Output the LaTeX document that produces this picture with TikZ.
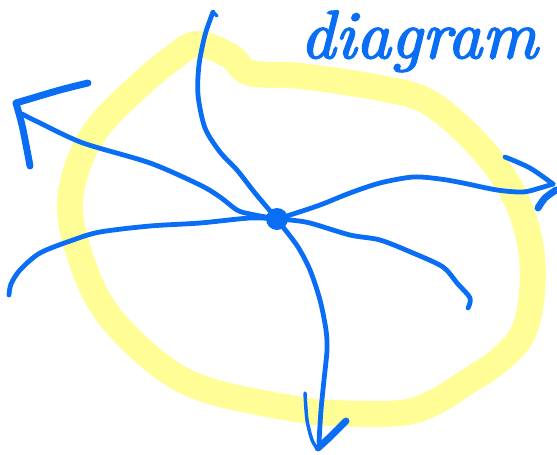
\documentclass[tikz,border=0pt]{standalone}
\usepackage{fontspec}
\newfontfamily\handfont{lmroman10-italic.otf}[FakeBold=2.5]
\definecolor{inkblue}{RGB}{10,110,245}
\definecolor{hilite}{RGB}{255,253,150}
\begin{document}
\begin{tikzpicture}[x=0.75pt,y=-0.75pt,
  blob/.style={draw=hilite,line width=19.5pt,line cap=round,line join=round},
  ink/.style={draw=inkblue,line width=3.6pt,line cap=round,line join=round},
  inkthin/.style={ink,line width=2.6pt},
  inkthick/.style={ink,line width=5.2pt},
  hub/.style={circle,fill=inkblue,inner sep=0pt,minimum size=16.5pt},
  handtext/.style={text=inkblue,inner sep=0pt,font=\handfont\fontsize{51}{51}\selectfont}]
\useasboundingbox (0,0) rectangle (557,454);
% yellow highlight blob
\draw[blob] plot[smooth cycle,tension=0.6] coordinates {(197,44) (230,56) (250,73) (300,76) (380,88) (430,103) (480,147) (513,193) (530,243) (532,293) (522,335) (497,362) (467,382) (433,403) (400,413) (333,413) (290,408) (207,390) (157,363) (107,313) (82,262) (70,210) (78,165) (100,125) (140,85) (170,60)};
% handwritten title
\node[handtext,anchor=base west] (title) at (300,58) {diagram};
% hub
\node[hub] (c) at (277,219) {};
% free ends
\coordinate (ul) at (22,114);
\coordinate (rt) at (553,184);
\coordinate (bt) at (319,442);
\coordinate (tp) at (213,12);
\coordinate (ll) at (9,295);
\coordinate (lr) at (468,308);
% spokes
\draw[ink] plot[smooth] coordinates {(c.center) (250,214) (237,210) (220,197) (200,185) (150,163) (83,143) (40,123) (ul)};
\draw[ink] plot[smooth] coordinates {(c.center) (290,215) (320,205) (350,193) (380,183) (413,177) (440,179) (463,183) (497,190) (523,192) (540,188) (rt)};
\draw[ink] plot[smooth] coordinates {(c.center) (283,227) (298,247) (310,270) (320,300) (326,330) (327,350) (324,380) (321,410) (bt)};
\draw[ink] plot[smooth] coordinates {(c.center) (255,193) (237,170) (220,152) (205,128) (198,95) (199,65) (205,35) (tp)};
\draw[inkthin] (tp) -- (217,16);
\draw[ink] plot[smooth] coordinates {(c.center) (250,218) (200,223) (150,226) (100,232) (73,240) (40,253) (20,270) (11,284) (ll)};
\draw[ink] plot[smooth] coordinates {(c.center) (290,220) (310,223) (350,235) (380,240) (413,253) (443,267) (457,283) (470,298) (lr)};
% arrowheads
\draw[inkthick] plot[smooth] coordinates {(88,83) (60,90) (16,103)};
\draw[inkthick] plot[smooth] coordinates {(16,103) (22,125) (27,150) (30,166)};
\draw[ink] plot[smooth] coordinates {(505,157) (530,168) (rt)};
\draw[inkthick] plot[smooth] coordinates {(556,190) (545,198) (538,208)};
\draw[inkthin] plot[smooth] coordinates {(305,393) (307,420) (312,440) (317,448)};
\draw[inkthick] plot[smooth] coordinates {(346,421) (330,437) (318,448)};
\end{tikzpicture}
\end{document}
